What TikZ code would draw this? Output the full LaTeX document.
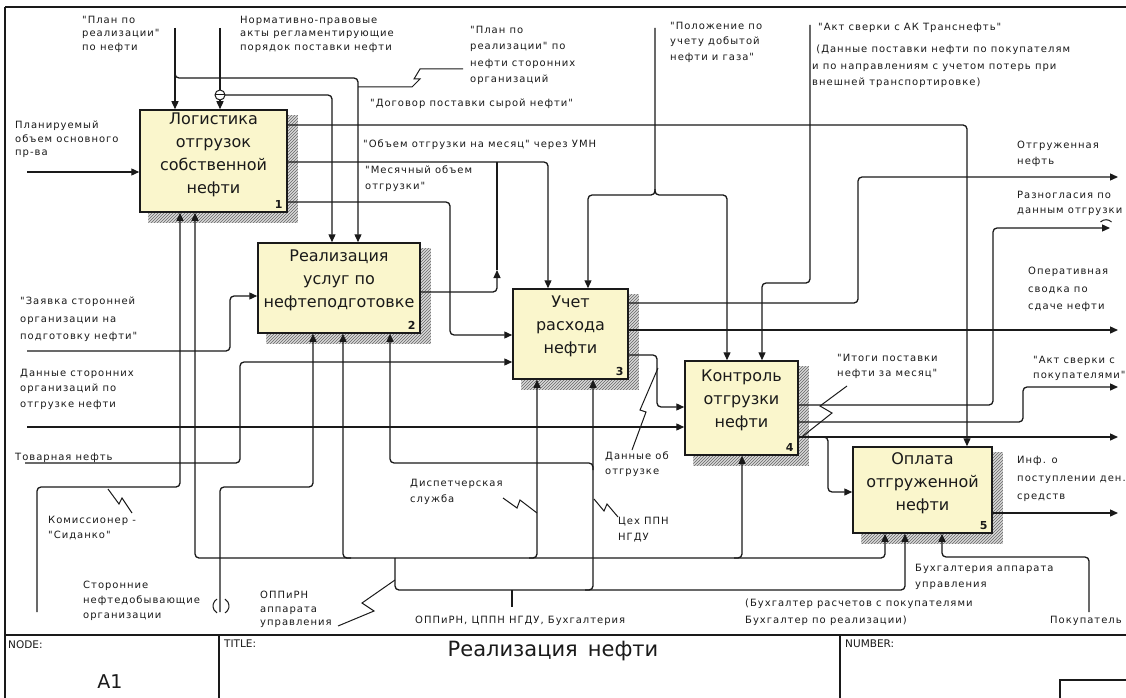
\documentclass[tikz,border=0pt]{standalone}
\usepackage{fontspec}
\setmainfont{DejaVu Sans}
\newfontfamily\lblfont[LetterSpace=10]{DejaVu Sans}
\usetikzlibrary{arrows.meta,patterns,backgrounds,calc}
\definecolor{boxfill}{HTML}{FAF6CC}
\definecolor{ink}{HTML}{1A1A1A}
\tikzset{
  ln/.style={draw=ink, line width=1.3pt, rounded corners=4pt},
  arr/.style={ln, -{Triangle[length=8pt,width=7pt]}},
  fbox/.style={draw=ink, line width=1.5pt, fill=boxfill, inner sep=0pt},
  btxt/.style={font=\fontsize{16}{23}\selectfont, align=center, text=ink},
  bnum/.style={font=\bfseries\fontsize{11}{12}\selectfont, anchor=south east, inner sep=0pt, text=ink},
  lbl/.style={font=\lblfont\fontsize{10}{#1}\selectfont, align=left, anchor=north west, inner sep=0pt, text=ink},
  lbl/.default=14.5,
  sq/.style={draw=ink, line width=1pt},
  shade/.style={preaction={fill=black!15}, pattern=north east lines, pattern color=black!60, draw=none},
  frame/.style={draw=ink, line width=1.4pt},
  tb/.style={font=\fontsize{10.5}{12}\selectfont, anchor=north west, inner sep=0pt, text=ink},
}
\begin{document}
\begin{tikzpicture}[x=1pt,y=-1pt]
\useasboundingbox (0,0) rectangle (1126,698);

% ---------- frame and title block
\draw[frame] (5,7) -- (1126,7);
\draw[frame] (5,7) -- (5,698);
\draw[frame] (5,635) -- (1126,635);
\draw[frame] (219,635) -- (219,698);
\draw[frame] (840,635) -- (840,698);
\draw[frame] (1060,698) -- (1060,680) -- (1126,680);
\node[tb] (tnode) at (8,640) {NODE:};
\node[font=\fontsize{19}{21}\selectfont, text=ink] (tA) at (110,682) {A1};
\node[tb] (ttitle) at (224,640) {TITLE:};
\node[tb] (tnum) at (845,640) {NUMBER:};
\node[font=\fontsize{21}{24}\selectfont, text=ink] (tname) at (553,651) {Реализация\hspace{10pt}нефти};

% ---------- boxes
\node[fbox, minimum width=147pt, minimum height=102pt] (b1) at (213.5,161) {};
\node[fbox, minimum width=162pt, minimum height=90pt] (b2) at (339,288) {};
\node[fbox, minimum width=115pt, minimum height=90pt] (b3) at (570.5,334) {};
\node[fbox, minimum width=113pt, minimum height=94pt] (b4) at (741.5,408) {};
\node[fbox, minimum width=139pt, minimum height=86pt] (b5) at (922.5,490) {};
\begin{scope}[on background layer]
\fill[white] (0,0) rectangle (1126,698);
\foreach \b in {b1,b2,b3,b4,b5}{
  \fill[shade] ([shift={(9,6)}]\b.north west) rectangle ([shift={(10,10)}]\b.south east);
}
\end{scope}
\node[btxt] (t1) at ([yshift=6pt]b1.center) {Логистика\\отгрузок\\собственной\\нефти};
\node[btxt] (t2) at ([yshift=8pt]b2.center) {Реализация\\услуг по\\нефтеподготовке};
\node[btxt] (t3) at ([yshift=8pt]b3.center) {Учет\\расхода\\нефти};
\node[btxt] (t4) at ([yshift=8pt]b4.center) {Контроль\\отгрузки\\нефти};
\node[btxt] (t5) at ([yshift=7pt]b5.center) {Оплата\\отгруженной\\нефти};
\node[bnum] (n1) at ([shift={(-5,-4)}]b1.south east) {1};
\node[bnum] (n2) at ([shift={(-5,-4)}]b2.south east) {2};
\node[bnum] (n3) at ([shift={(-5,-4)}]b3.south east) {3};
\node[bnum] (n4) at ([shift={(-5,-4)}]b4.south east) {4};
\node[bnum] (n5) at ([shift={(-5,-4)}]b5.south east) {5};

% ---------- inputs
\coordinate (iPlan) at (27,172);
\draw[arr] (iPlan) -- (iPlan -| b1.west);
\coordinate (iZay) at (27,351);
\draw[arr] (iZay) -- (230,351) -- (230,296) -- (b2.west |- 0,296);
\coordinate (iDan) at (27,427);
\draw[arr] (iDan) -- (iDan -| b4.west);
\coordinate (iTov) at (25,463);
\draw[arr] (iTov) -- (240,463) -- (240,362) -- (b3.west |- 0,362);

% ---------- controls
\coordinate (cPlan) at (175,28);
\draw[arr] (cPlan) -- (cPlan |- b1.north);
\draw[arr] (175,72) -- (175,78) -- (358,78) -- (358,0 |- b2.north);
\coordinate (cNorm) at (220,28);
\draw[arr] (cNorm) -- (cNorm |- b1.north);
\draw[arr] (220,95) -- (332,95) -- (332,0 |- b2.north);
\draw[sq, fill=white] (220,95) circle[radius=5pt];
\draw[sq] (215,95) -- (225,95);
\draw[sq] (463,69) -- (420,69) -- (414,79) -- (420,79) -- (412,87) -- (358,87);
\coordinate (cPol) at (655,28);
\draw[arr] (cPol) -- (655,195) -- (588,195) -- (588,0 |- b3.north);
\draw[arr] (655,189) -- (655,195) -- (727,195) -- (727,0 |- b4.north);
\coordinate (cAkt) at (810,25);
\draw[arr] (cAkt) -- (810,283) -- (762,283) -- (762,0 |- b4.north);

% ---------- outputs of box 1 and 2
\draw[arr] (b1.east |- 0,125) -- (967,125) -- (967,0 |- b5.north);
\draw[arr] (b1.east |- 0,162) -- (548,162) -- (548,0 |- b3.north);
\draw[arr] (b1.east |- 0,202) -- (450,202) -- (450,335) -- (b3.west |- 0,335);
\coordinate (jB2) at (497,270);
\draw[arr] (b2.east |- 0,292) -- (497,292) -- (jB2);
\draw[ln] (jB2) -- (497,162);

% ---------- outputs of box 3
\coordinate (oOtg) at (1118,177);
\draw[arr] (b3.east |- 0,303) -- (858,303) -- (858,177) -- (oOtg);
\coordinate (oOper) at (1118,330);
\draw[arr] (b3.east |- 0,330) -- (oOper);
\draw[arr] (b3.east |- 0,355) -- (657,355) -- (657,407) -- (b4.west |- 0,407);

% ---------- outputs of box 4 and 5
\coordinate (oRaz) at (1110,228);
\draw[arr] (b4.east |- 0,405) -- (993,405) -- (993,228) -- (oRaz);
\draw[sq] (1100.5,222) arc[start angle=135, end angle=45, radius=7.8pt];
\coordinate (oAktP) at (1118,387);
\draw[arr] (b4.east |- 0,422) -- (1023,422) -- (1023,387) -- (oAktP);
\coordinate (oItog) at (1118,437);
\draw[arr] (b4.east |- 0,437) -- (oItog);
\draw[arr] (820,437) -- (828,437) -- (828,492) -- (b5.west |- 0,492);
\coordinate (oInf) at (1118,513);
\draw[arr] (b5.east |- 0,513) -- (oInf);

% ---------- mechanisms
\coordinate (mKom) at (37,612);
\draw[arr] (mKom) -- (37,487) -- (180,487) -- (180,0 |- b1.south);
\coordinate (mStor) at (220,612);
\draw[arr] (mStor) -- (220,487) -- (313,487) -- (313,0 |- b2.south);
\draw[sq] (217,599.07) arc[start angle=120, end angle=240, radius=8pt];
\draw[sq] (225,612.93) arc[start angle=-60, end angle=60, radius=8pt];
\coordinate (mOpp) at (395,558);
\draw[arr] (mOpp) -- (195,558) -- (195,0 |- b1.south);
\draw[arr] (mOpp) -- (885,558) -- (885,0 |- b5.south);
\draw[arr] (mOpp) -- (395,590) -- (905,590) -- (905,0 |- b5.south);
\draw[arr] (351,558) -- (343,558) -- (343,0 |- b2.south);
\draw[arr] (529,558) -- (537,558) -- (537,0 |- b3.south);
\draw[arr] (734,558) -- (742,558) -- (742,0 |- b4.south);
\coordinate (mAll) at (512,607);
\draw[ln] (512,590) -- (mAll);
\draw[arr] (585,590) -- (593,590) -- (593,0 |- b3.south);
\draw[arr] (593,470) -- (593,463) -- (390,463) -- (390,0 |- b2.south);
\coordinate (mPok) at (1089,612);
\draw[arr] (mPok) -- (1089,557) -- (942,557) -- (942,0 |- b5.south);

% ---------- squiggle leaders
\draw[sq] (108,489) -- (119,504) -- (122,498) -- (132,513);
\draw[sq] (338,626) -- (374,611) -- (362,603) -- (395,580);
\draw[sq] (503,498) -- (517,508) -- (520,500) -- (537,513);
\draw[sq] (594,499) -- (604,511) -- (607,504) -- (618,517);
\draw[sq] (632,450) -- (646,412) -- (640,410) -- (658,368);
\draw[sq] (847,386) -- (820,406) -- (832,413) -- (803,436);

% ---------- labels
\node[lbl=13.5] (L1) at (82,16) {"План по\\реализации"\\по нефти};
\node[lbl=13.5] (L2) at (240,16) {Нормативно-правовые\\акты регламентирующие\\порядок поставки нефти};
\node[lbl=16.5] (L3) at (470,26) {"План по\\реализации" по\\нефти сторонних\\организаций};
\node[lbl] (L4) at (370,99) {"Договор поставки сырой нефти"};
\node[lbl=15.5] (L5) at (670,22) {"Положение по\\учету добытой\\нефти и газа"};
\node[lbl] (L6) at (818,23) {"Акт сверки с АК Транснефть"};
\node[lbl=16.5] (L7) at (812,45) {\ (Данные поставки нефти по покупателям\\и по направлениям с учетом потерь при\\внешней транспортировке)};
\node[lbl=13.5] (L8) at (15,121) {Планируемый\\объем основного\\пр-ва};
\node[lbl] (L9) at (363,140) {"Объем отгрузки на месяц" через УМН};
\node[lbl=16] (L10) at (365,166) {"Месячный объем\\отгрузки"};
\node[lbl=17.5] (L11) at (20,297) {"Заявка сторонней\\организации на\\подготовку нефти"};
\node[lbl=15.5] (L12) at (20,369) {Данные сторонних\\организаций по\\отгрузке нефти};
\node[lbl] (L13) at (15,453) {Товарная нефть};
\node[lbl=15] (L14) at (48,516) {Комиссионер -\\"Сиданко"};
\node[lbl=15] (L15) at (83,581) {Сторонние\\нефтедобывающие\\организации};
\node[lbl=13.5] (L16) at (260,591) {ОППиРН\\аппарата\\управления};
\node[lbl=16] (L17) at (410,479) {Диспетчерская\\служба};
\node[lbl=15] (L18) at (605,452) {Данные об\\отгрузке};
\node[lbl=16] (L19) at (618,517) {Цех ППН\\НГДУ};
\node[lbl] (L20) at (415,616) {ОППиРН, ЦППН НГДУ, Бухгалтерия};
\node[lbl=16.5] (L21) at (915,564) {Бухгалтерия аппарата\\управления};
\node[lbl=17] (L22) at (745,599) {(Бухгалтер расчетов с покупателями\\Бухгалтер по реализации)};
\node[lbl] (L23) at (1050,616) {Покупатель};
\node[lbl=15] (L24) at (837,354) {"Итоги поставки\\нефти за месяц"};
\node[lbl=16] (L25) at (1017,141) {Отгруженная\\нефть};
\node[lbl=15] (L26) at (1017,191) {Разногласия по\\данным отгрузки};
\node[lbl=17.5] (L27) at (1028,267) {Оперативная\\сводка по\\сдаче нефти};
\node[lbl=15] (L28) at (1033,356) {"Акт сверки с\\покупателями"};
\node[lbl=18] (L29) at (1017,456) {Инф. о\\поступлении ден.\\средств};
\end{tikzpicture}
\end{document}
